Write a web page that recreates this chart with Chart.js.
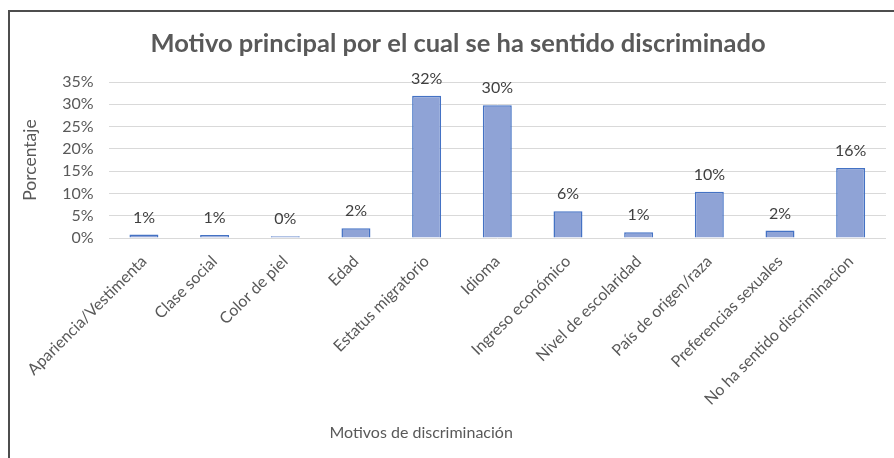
<!DOCTYPE html>
<html>
<head>
<meta charset="utf-8">
<title>Motivo principal de discriminación</title>
<script src="https://cdn.jsdelivr.net/npm/chart.js@4"></script>
<style>
  body { margin: 0; background: #fff; }
  #wrap { position: relative; width: 894px; height: 458px; overflow: hidden; }
  /* marco del gráfico, solo se ven el lado izquierdo y el superior */
  #frame { position: absolute; left: 8px; top: 10px; width: 1000px; height: 1000px; border: 2px solid #4d4d4d; }
  canvas { position: absolute; left: 0; top: 0; }
</style>
</head>
<body>
<div id="wrap">
  <div id="frame"></div>
  <canvas id="motivosChart" width="894" height="458"></canvas>
</div>
<script>
// datos de la encuesta
const motivos = [
  'Apariencia/Vestimenta', 'Clase social', 'Color de piel', 'Edad',
  'Estatus migratorio', 'Idioma', 'Ingreso económico', 'Nivel de escolaridad',
  'País de origen/raza', 'Preferencias sexuales', 'No ha sentido discriminacion'
];
const porcentajes = [0.8, 0.7, 0.4, 2.2, 31.9, 29.8, 6.0, 1.3, 10.4, 1.7, 15.7];
const ejeYMin = 0;
const ejeYMax = 35;
const ejeYPaso = 5;

const titulo = 'Motivo principal por el cual se ha sentido discriminado';
const tituloY = 'Porcentaje';
const tituloX = 'Motivos de discriminación';

const fuente = 'Lato, "Open Sans", sans-serif';

// escribe el porcentaje redondeado encima de cada barra
const etiquetasValor = {
  id: 'etiquetasValor',
  afterDatasetsDraw(chart) {
    const ctx = chart.ctx;
    const meta = chart.getDatasetMeta(0);
    ctx.save();
    ctx.font = '16px ' + fuente;
    ctx.fillStyle = '#404040';
    ctx.textAlign = 'center';
    ctx.textBaseline = 'middle';
    meta.data.forEach((bar, i) => {
      const v = chart.data.datasets[0].data[i];
      ctx.fillText(Math.round(v) + '%', bar.x, bar.y - 17);
    });
    ctx.restore();
  }
};

// titulo del eje x, un poco a la izquierda del centro
const tituloEjeX = {
  id: 'tituloEjeX',
  afterDraw(chart) {
    const {ctx, chartArea} = chart;
    ctx.save();
    ctx.font = '16px ' + fuente;
    ctx.fillStyle = '#595959';
    ctx.textAlign = 'center';
    ctx.textBaseline = 'middle';
    const x = chartArea.left + (chartArea.right - chartArea.left) * 0.402;
    ctx.fillText(tituloX, x, chart.height - 25);
    ctx.restore();
  }
};

const ctx = document.getElementById('motivosChart').getContext('2d');
new Chart(ctx, {
  type: 'bar',
  data: {
    labels: motivos,
    datasets: [{
      label: 'Porcentaje',
      data: porcentajes,
      backgroundColor: '#8FA3D6',
      borderColor: '#4472C4',
      borderWidth: 1.5,
      barPercentage: 0.41,
      categoryPercentage: 1
    }]
  },
  options: {
    responsive: false,
    animation: false,
    layout: { padding: { left: 30, right: 8, top: 0, bottom: 0 } },
    plugins: {
      legend: { display: false },
      tooltip: { enabled: false },
      title: {
        display: true,
        text: titulo,
        color: '#595959',
        font: { family: fuente, size: 25.5, weight: 'bold' },
        padding: { top: 28, bottom: 23.4 }
      }
    },
    scales: {
      x: {
        grid: { display: false },
        border: { display: false },
        ticks: {
          color: '#595959',
          font: { family: fuente, size: 16 },
          maxRotation: 45,
          minRotation: 45,
          autoSkip: false,
          padding: 6
        },
        afterFit(s) { s.height = 220; }
      },
      y: {
        min: ejeYMin,
        max: ejeYMax,
        grid: { color: '#D9D9D9', drawTicks: false },
        border: { display: false },
        ticks: {
          stepSize: ejeYPaso,
          color: '#595959',
          font: { family: fuente, size: 16 },
          padding: 15,
          callback: v => v + '%'
        },
        title: {
          display: true,
          text: tituloY,
          color: '#595959',
          font: { family: fuente, size: 17.5 },
          padding: { top: -10.5, bottom: 0 }
        },
        afterFit(s) { s.width = 78.6; }
      }
    }
  },
  plugins: [etiquetasValor, tituloEjeX]
});
</script>
</body>
</html>
